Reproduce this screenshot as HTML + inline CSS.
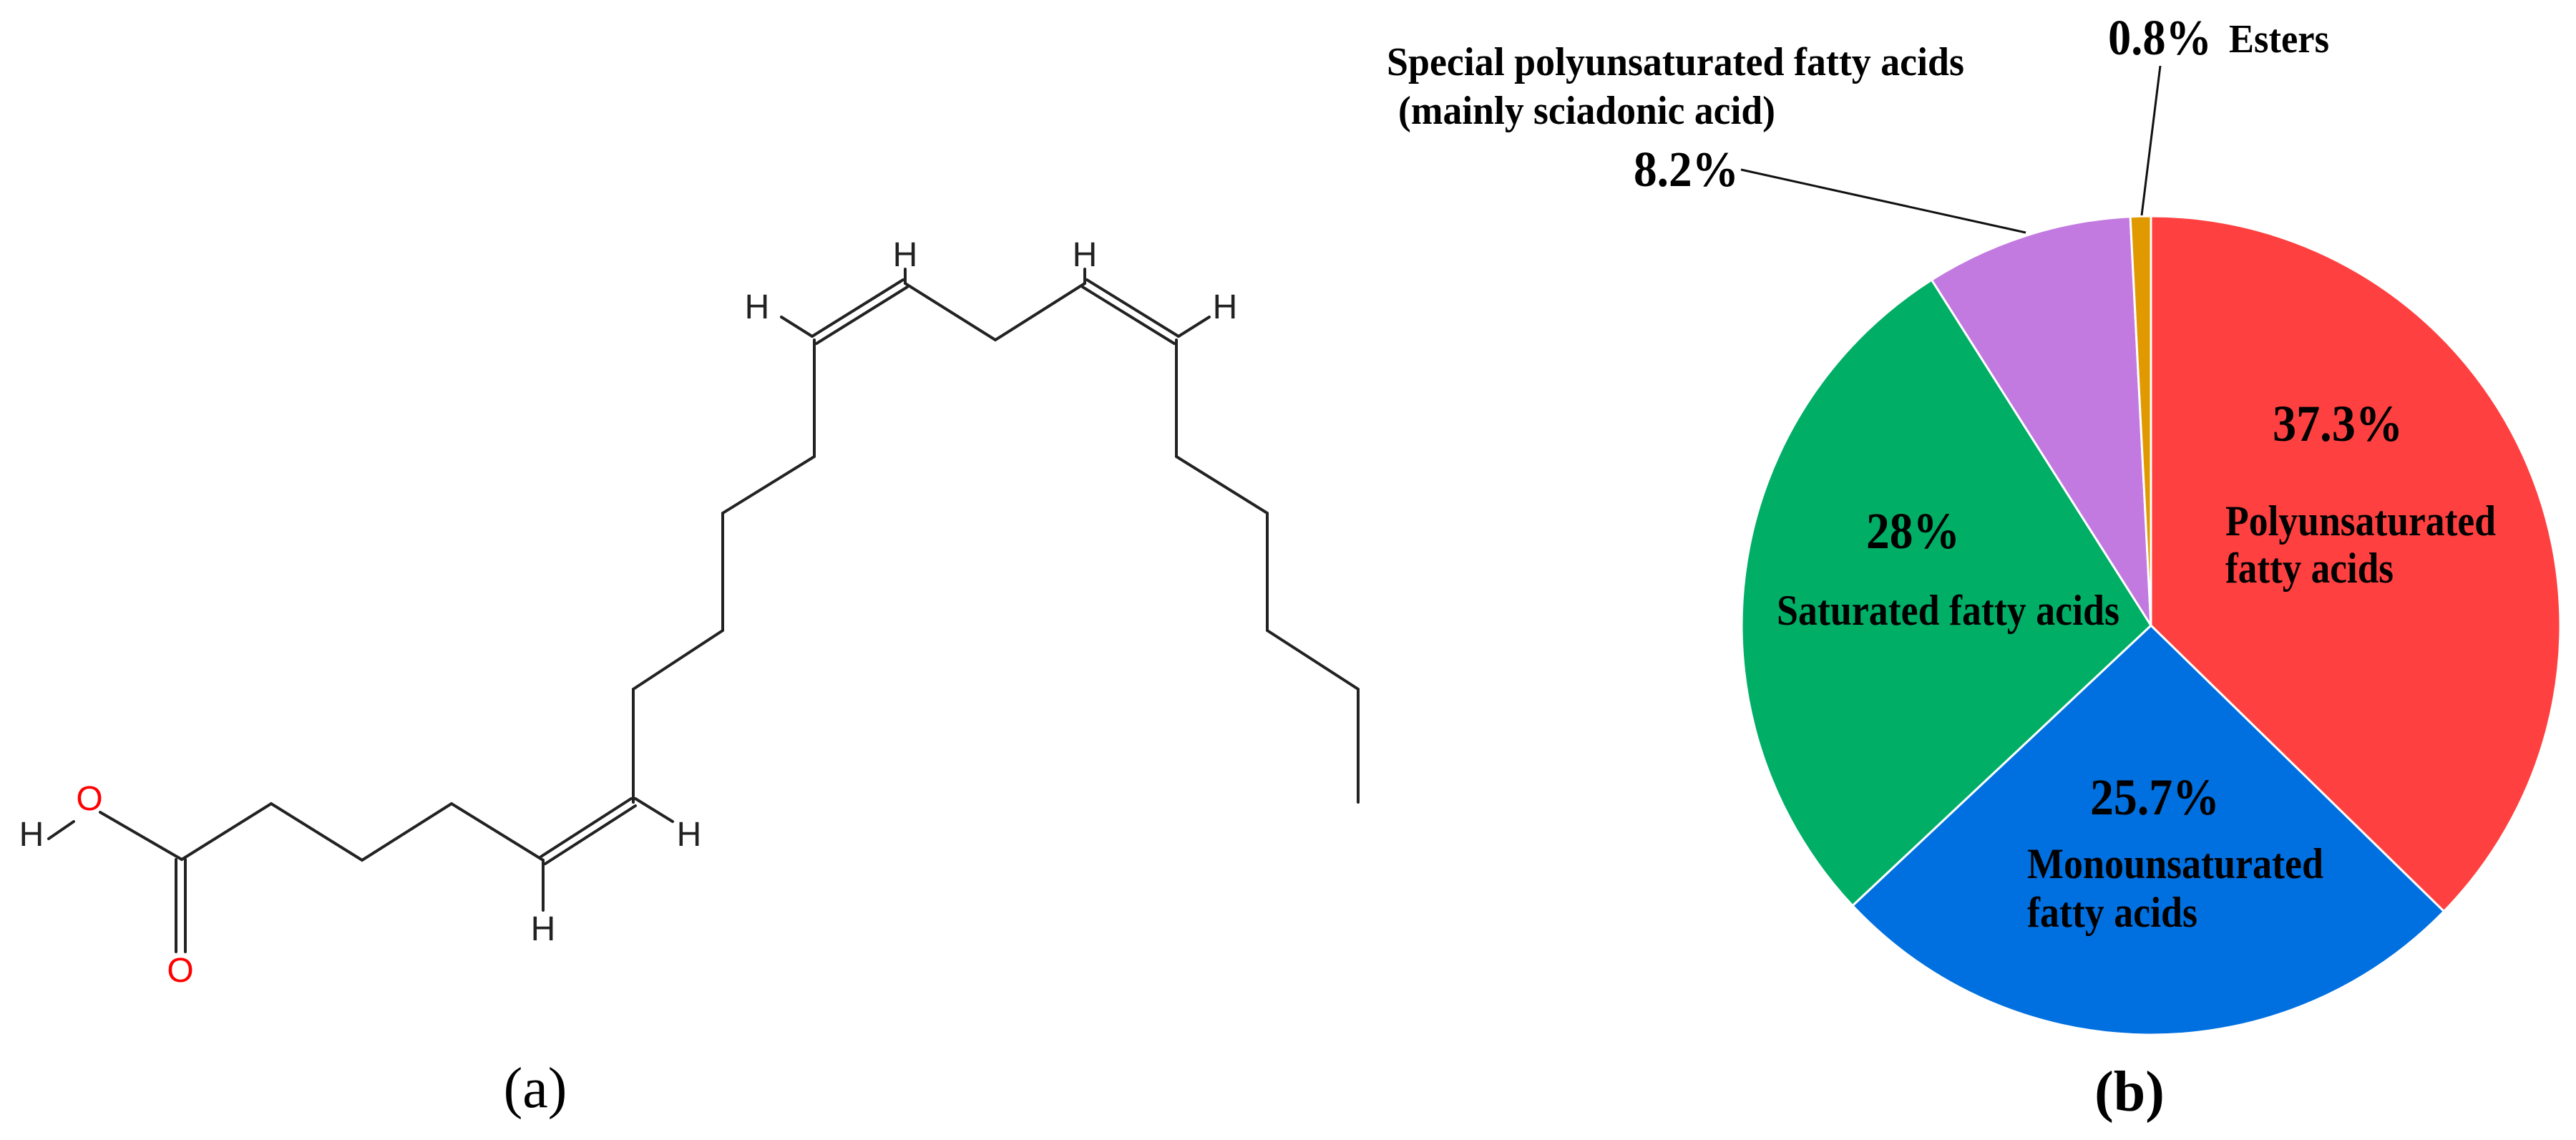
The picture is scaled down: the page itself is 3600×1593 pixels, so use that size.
<!DOCTYPE html>
<html><head><meta charset="utf-8"><style>
html,body{margin:0;padding:0;background:#fff}
svg{display:block}
</style></head><body>
<svg width="3600" height="1593" viewBox="0 0 3600 1593" xmlns="http://www.w3.org/2000/svg">
<rect width="3600" height="1593" fill="#fff"/>
<g stroke="#222" stroke-width="4" fill="none" stroke-linecap="round">
<polyline points="140,1135 254,1201 379,1123 506,1202 631,1123 759,1202"/>
<polyline points="885,1121 885,963 1010,881 1010,717 1138,638 1138,475"/>
<polyline points="1265,396 1391,475 1516,396"/>
<polyline points="1644,475 1644,638 1771,717 1771,881 1898,963 1898,1121"/>
<line x1="756" y1="1197" x2="882" y2="1116"/>
<line x1="762" y1="1207" x2="888" y2="1126"/>
<line x1="1135" y1="470" x2="1262" y2="391"/>
<line x1="1141" y1="480" x2="1268" y2="401"/>
<line x1="1519" y1="391" x2="1647" y2="470"/>
<line x1="1513" y1="401" x2="1641" y2="480"/>
<line x1="246" y1="1201" x2="246" y2="1330"/>
<line x1="259" y1="1201" x2="259" y2="1330"/>
<line x1="759" y1="1202" x2="759" y2="1272"/>
<line x1="888" y1="1116" x2="940" y2="1148"/>
<line x1="1135" y1="470" x2="1092" y2="443"/>
<line x1="1265" y1="396" x2="1265" y2="376"/>
<line x1="1516" y1="396" x2="1516" y2="376"/>
<line x1="1647" y1="470" x2="1690" y2="443"/>
<line x1="103" y1="1148" x2="68" y2="1172"/>
</g>
<g font-family="Liberation Sans, sans-serif" font-size="48" text-anchor="middle" fill="#222">
<text x="44" y="1182">H</text>
<text x="125" y="1132" fill="#f00">O</text>
<text x="252" y="1372" fill="#f00">O</text>
<text x="759" y="1314">H</text>
<text x="963" y="1182">H</text>
<text x="1058" y="445">H</text>
<text x="1265" y="372">H</text>
<text x="1516" y="372">H</text>
<text x="1712" y="445">H</text>
</g>
<text x="748" y="1547" font-family="Liberation Serif, serif" font-size="80" text-anchor="middle" fill="#000">(a)</text>

<g stroke="#fff" stroke-width="3" stroke-linejoin="round">
<path d="M3006,874 L3006,302 A572,572 0 0 1 3415.4,1273.5 Z" fill="#FF4040"/>
<path d="M3006,874 L3415.4,1273.5 A572,572 0 0 1 2589,1265.5 Z" fill="#0070E0"/>
<path d="M3006,874 L2589,1265.5 A572,572 0 0 1 2699.5,391.1 Z" fill="#00AE66"/>
<path d="M3006,874 L2699.5,391.1 A572,572 0 0 1 2977.1,302.7 Z" fill="#C27AE0"/>
<path d="M3006,874 L2977.1,302.7 A572,572 0 0 1 3006,302 Z" fill="#E09A00"/>
</g>
<g stroke="#111" stroke-width="3" fill="none">
<line x1="2433" y1="237" x2="2831" y2="325"/>
<line x1="3019" y1="92" x2="2993" y2="301"/>
</g>
<g font-family="Liberation Serif, serif" font-weight="bold" fill="#000">
<text x="3176" y="616" font-size="72" textLength="182" lengthAdjust="spacingAndGlyphs">37.3%</text>
<text x="3110" y="748" font-size="60" textLength="378" lengthAdjust="spacingAndGlyphs">Polyunsaturated</text>
<text x="3110" y="814" font-size="60" textLength="235" lengthAdjust="spacingAndGlyphs">fatty acids</text>
<text x="2608" y="766" font-size="72" textLength="131" lengthAdjust="spacingAndGlyphs">28%</text>
<text x="2483" y="873" font-size="60" textLength="479" lengthAdjust="spacingAndGlyphs">Saturated fatty acids</text>
<text x="2921" y="1138" font-size="72" textLength="181" lengthAdjust="spacingAndGlyphs">25.7%</text>
<text x="2833" y="1227" font-size="60" textLength="414" lengthAdjust="spacingAndGlyphs">Monounsaturated</text>
<text x="2833" y="1295" font-size="60" textLength="238" lengthAdjust="spacingAndGlyphs">fatty acids</text>
<text x="2946" y="76" font-size="70" textLength="145" lengthAdjust="spacingAndGlyphs">0.8%</text>
<text x="3115" y="73" font-size="56" textLength="140" lengthAdjust="spacingAndGlyphs">Esters</text>
<text x="1938" y="105" font-size="56" textLength="807" lengthAdjust="spacingAndGlyphs">Special polyunsaturated fatty acids</text>
<text x="1954" y="173" font-size="56" textLength="527" lengthAdjust="spacingAndGlyphs">(mainly sciadonic acid)</text>
<text x="2283" y="260" font-size="70" textLength="147" lengthAdjust="spacingAndGlyphs">8.2%</text>
</g>
<text x="2976" y="1552" font-family="Liberation Serif, serif" font-weight="bold" font-size="80" text-anchor="middle" fill="#000">(b)</text>
</svg>
</body></html>
